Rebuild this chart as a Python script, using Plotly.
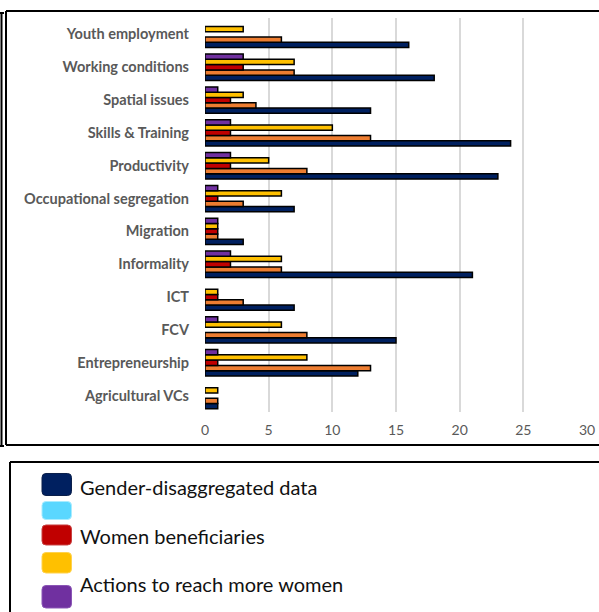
import plotly.graph_objects as go

# Topic categories, listed bottom to top
categories = [
    "Agricultural VCs", "Entrepreneurship", "FCV", "ICT", "Informality",
    "Migration", "Occupational segregation", "Productivity",
    "Skills & Training", "Spatial issues", "Working conditions",
    "Youth employment",
]

gender_data = [1, 12, 15, 7, 21, 3, 7, 23, 24, 13, 18, 16]
second_series = [1, 13, 8, 3, 6, 1, 3, 8, 13, 4, 7, 6]
women_beneficiaries = [0, 1, 0, 1, 2, 1, 1, 2, 2, 2, 3, 0]
fourth_series = [1, 8, 6, 1, 6, 1, 6, 5, 10, 3, 7, 3]
actions_women = [0, 1, 1, 0, 2, 1, 1, 2, 2, 1, 3, 0]

x_ticks = [0, 5, 10, 15, 20, 25, 30]

legend_labels = ["Gender-disaggregated data", "", "Women beneficiaries", "",
                 "Actions to reach more women"]
legend_colors = ["#002060", "#5AD7FF", "#C00000", "#FFC000", "#7030A0"]
legend_edges = ["#0b1f4a", "#a8ecff", "#c84040", "#ffd24d", "#8a55b5"]

series = [
    (gender_data, "#002060"),
    (second_series, "#ED7D31"),
    (women_beneficiaries, "#C00000"),
    (fourth_series, "#FFC000"),
    (actions_women, "#7030A0"),
]

fig = go.Figure()
for values, color in series:
    fig.add_trace(go.Bar(
        y=categories,
        x=[v if v else None for v in values],
        orientation="h",
        marker=dict(color=color, line=dict(color="#000000", width=1.5)),
        showlegend=False,
        hoverinfo="x+y",
    ))

W, H = 599, 612
PL, PR, PT, PB = 205, 587, 18, 412


def fx(x):
    return (x - PL) / (PR - PL)


def fy(y):
    return (PB - y) / (PB - PT)


shapes = []


def line(x0, y0, x1, y1, width=2, color="#000000"):
    shapes.append(dict(type="line", xref="paper", yref="paper",
                       x0=fx(x0), y0=fy(y0), x1=fx(x1), y1=fy(y1),
                       line=dict(color=color, width=width), layer="above"))


def rounded_rect(x0, y0, x1, y1, r, fill, edge):
    pts = [
        ("M", x0 + r, y0), ("L", x1 - r, y0), ("Q", x1, y0, x1, y0 + r),
        ("L", x1, y1 - r), ("Q", x1, y1, x1 - r, y1), ("L", x0 + r, y1),
        ("Q", x0, y1, x0, y1 - r), ("L", x0, y0 + r), ("Q", x0, y0, x0 + r, y0),
    ]
    parts = []
    for p in pts:
        cmd = p[0]
        coords = p[1:]
        conv = []
        for i in range(0, len(coords), 2):
            conv.append(f"{fx(coords[i]):.5f},{fy(coords[i + 1]):.5f}")
        parts.append(cmd + " " + " ".join(conv))
    path = " ".join(parts) + " Z"
    shapes.append(dict(type="path", xref="paper", yref="paper", path=path,
                       fillcolor=fill, line=dict(color=edge, width=1),
                       layer="above"))


# Outer bracket on the left
line(1.5, 13, 1.5, 446)
line(0, 13, 4, 13)
line(0, 446, 4, 446)
# Chart frame
line(6, 11, 601, 11)
line(6, 11, 6, 445)
line(6, 445, 601, 445)
# Legend box
line(10, 462, 601, 462)
line(10, 462, 10, 614)

swatch_y = [(473.5, 495.5), (501.5, 519.5), (525, 545), (552.5, 573), (585.5, 608)]
label_y = [487, None, 536, None, 584]
annotations = []
for lab, col, edge, (y0, y1), ly in zip(legend_labels, legend_colors, legend_edges,
                                        swatch_y, label_y):
    rounded_rect(42, y0, 71.5, y1, 4, col, edge)
    if lab:
        annotations.append(dict(
            text=lab, xref="paper", yref="paper", x=fx(78), y=fy(ly),
            xanchor="left", yanchor="middle", showarrow=False,
            font=dict(family="Lato, Open Sans, sans-serif", size=20,
                      color="#111111"),
        ))

fig.update_layout(
    template="none",
    width=W, height=H, autosize=False,
    margin=dict(l=PL, r=W - PR, t=PT, b=H - PB, pad=0, autoexpand=False),
    paper_bgcolor="#ffffff", plot_bgcolor="#ffffff",
    barmode="group", bargap=0.2, bargroupgap=0,
    shapes=shapes, annotations=annotations, showlegend=False,
    font=dict(family="Lato, Open Sans, sans-serif", color="#595959"),
    xaxis=dict(
        range=[0, 30], tickvals=x_ticks, showgrid=True,
        gridcolor="#d9d9d9", gridwidth=2, zeroline=False, showline=False,
        tickfont=dict(size=14, color="#595959"), ticks="",
        ticklabelstandoff=8, fixedrange=True, automargin=False,
    ),
    yaxis=dict(
        type="category", showgrid=False, zeroline=False, showline=False,
        tickfont=dict(size=14.5, color="#595959", weight="bold"),
        ticks="", ticklabelstandoff=15, fixedrange=True, automargin=False,
    ),
)

fig.write_html("out.html")
